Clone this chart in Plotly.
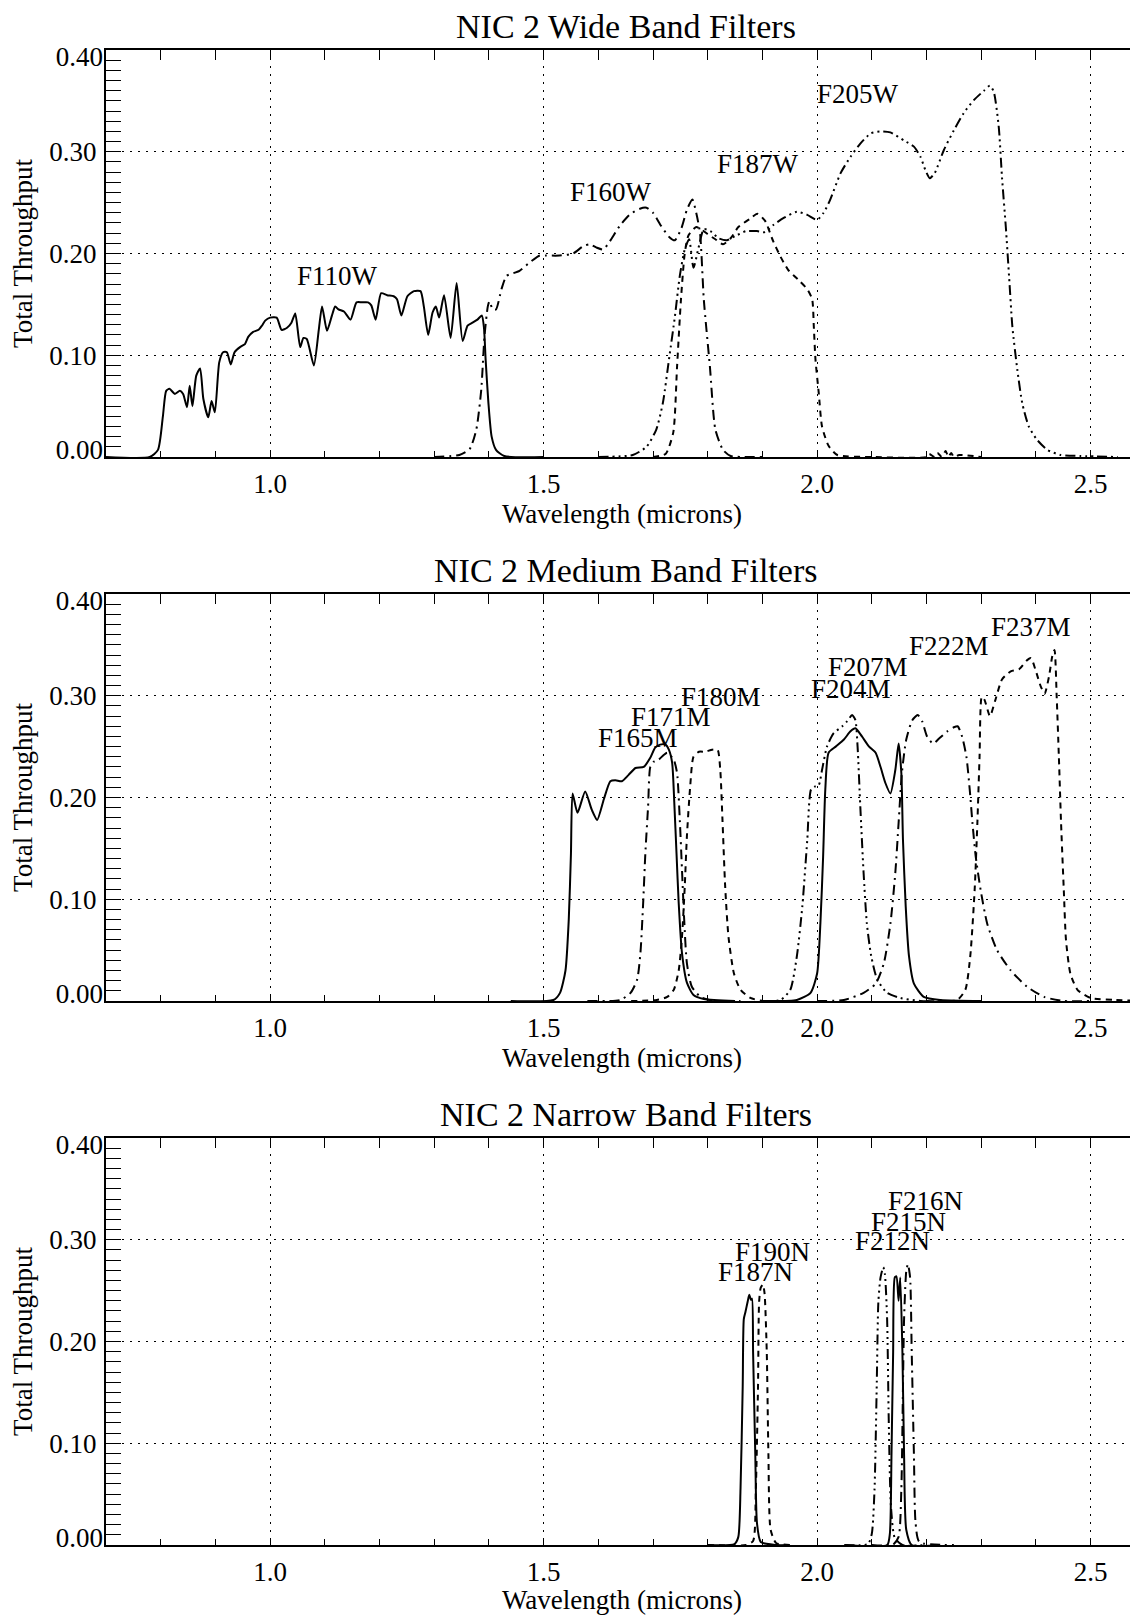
import plotly.graph_objects as go

# ---------------- data ----------------
# Wide band
f110w_wl = [0.70, 0.78, 0.795, 0.804, 0.810, 0.816, 0.826, 0.835, 0.841, 0.848, 0.853, 0.858, 0.865, 0.872, 0.878, 0.887, 0.893, 0.899, 0.907, 0.914, 0.921, 0.928, 0.935, 0.945, 0.954, 0.960, 0.969, 0.979, 0.985, 0.991, 1.000, 1.012, 1.021, 1.031, 1.039, 1.046, 1.055, 1.061, 1.067, 1.080, 1.089, 1.095, 1.104, 1.113, 1.119, 1.125, 1.135, 1.147, 1.158, 1.168, 1.179, 1.185, 1.193, 1.203, 1.214, 1.226, 1.232, 1.240, 1.251, 1.263, 1.275, 1.281, 1.289, 1.297, 1.303, 1.309, 1.318, 1.330, 1.341, 1.352, 1.361, 1.370, 1.379, 1.387, 1.391, 1.394, 1.399, 1.405, 1.413, 1.428, 1.50]
f110w_tp = [0.0, 0.0, 0.007, 0.040, 0.065, 0.067, 0.062, 0.065, 0.062, 0.049, 0.070, 0.050, 0.080, 0.087, 0.057, 0.039, 0.055, 0.044, 0.093, 0.103, 0.103, 0.091, 0.103, 0.108, 0.111, 0.118, 0.123, 0.125, 0.129, 0.134, 0.137, 0.137, 0.125, 0.127, 0.132, 0.141, 0.108, 0.117, 0.116, 0.090, 0.125, 0.148, 0.124, 0.139, 0.148, 0.145, 0.143, 0.135, 0.152, 0.152, 0.152, 0.149, 0.135, 0.161, 0.159, 0.158, 0.155, 0.139, 0.158, 0.163, 0.163, 0.148, 0.120, 0.142, 0.148, 0.137, 0.159, 0.117, 0.171, 0.114, 0.129, 0.132, 0.135, 0.139, 0.127, 0.096, 0.054, 0.020, 0.007, 0.001, 0.0]

f160w_wl = [1.30, 1.346, 1.365, 1.377, 1.386, 1.392, 1.398, 1.401, 1.407, 1.413, 1.423, 1.432, 1.441, 1.456, 1.474, 1.493, 1.505, 1.529, 1.554, 1.572, 1.584, 1.596, 1.609, 1.621, 1.639, 1.657, 1.676, 1.688, 1.700, 1.715, 1.730, 1.740, 1.752, 1.762, 1.772, 1.779, 1.786, 1.793, 1.804, 1.814, 1.828, 1.842, 1.90]
f160w_tp = [0.0, 0.002, 0.008, 0.027, 0.066, 0.119, 0.148, 0.153, 0.145, 0.145, 0.165, 0.178, 0.180, 0.183, 0.191, 0.198, 0.198, 0.198, 0.200, 0.207, 0.209, 0.206, 0.204, 0.212, 0.227, 0.238, 0.244, 0.245, 0.240, 0.227, 0.216, 0.213, 0.225, 0.243, 0.253, 0.240, 0.220, 0.154, 0.089, 0.027, 0.007, 0.001, 0.0]

f187w_wl = [1.70, 1.723, 1.737, 1.744, 1.751, 1.758, 1.765, 1.779, 1.790, 1.800, 1.814, 1.828, 1.842, 1.856, 1.877, 1.891, 1.905, 1.919, 1.933, 1.947, 1.968, 1.982, 1.991, 1.994, 1.997, 2.003, 2.009, 2.021, 2.037, 2.10, 2.20, 2.205, 2.215, 2.22, 2.228, 2.235, 2.24, 2.245, 2.25, 2.26, 2.30]
f187w_tp = [0.0, 0.003, 0.024, 0.089, 0.154, 0.200, 0.218, 0.226, 0.223, 0.219, 0.214, 0.209, 0.215, 0.226, 0.234, 0.239, 0.232, 0.213, 0.197, 0.184, 0.173, 0.165, 0.155, 0.128, 0.096, 0.063, 0.030, 0.011, 0.002, 0.0, 0.0, 0.003, 0.0, 0.004, 0.0, 0.006, 0.0, 0.004, 0.0, 0.002, 0.0]

f205w_wl = [1.60, 1.663, 1.688, 1.706, 1.718, 1.730, 1.740, 1.749, 1.758, 1.766, 1.774, 1.783, 1.793, 1.805, 1.820, 1.835, 1.850, 1.870, 1.890, 1.905, 1.920, 1.939, 1.963, 1.982, 2.000, 2.012, 2.024, 2.043, 2.061, 2.079, 2.098, 2.116, 2.134, 2.159, 2.177, 2.189, 2.198, 2.206, 2.215, 2.232, 2.250, 2.268, 2.287, 2.305, 2.316, 2.323, 2.332, 2.338, 2.345, 2.351, 2.357, 2.366, 2.375, 2.387, 2.402, 2.421, 2.445, 2.482, 2.55]
f205w_tp = [0.0, 0.002, 0.010, 0.027, 0.053, 0.099, 0.138, 0.178, 0.204, 0.214, 0.186, 0.205, 0.224, 0.222, 0.215, 0.213, 0.217, 0.222, 0.222, 0.221, 0.228, 0.235, 0.241, 0.238, 0.233, 0.240, 0.253, 0.279, 0.295, 0.308, 0.318, 0.320, 0.319, 0.311, 0.305, 0.295, 0.282, 0.274, 0.279, 0.302, 0.321, 0.338, 0.351, 0.360, 0.365, 0.359, 0.325, 0.275, 0.226, 0.177, 0.128, 0.086, 0.053, 0.030, 0.017, 0.007, 0.002, 0.001, 0.0]

# Medium band
f165m_wl = [1.44, 1.518, 1.530, 1.540, 1.546, 1.550, 1.553, 1.562, 1.576, 1.588, 1.598, 1.610, 1.622, 1.631, 1.643, 1.655, 1.668, 1.683, 1.695, 1.704, 1.713, 1.723, 1.729, 1.735, 1.739, 1.743, 1.747, 1.753, 1.762, 1.774, 1.793, 1.85]
f165m_tp = [0.0, 0.001, 0.008, 0.030, 0.080, 0.145, 0.204, 0.185, 0.206, 0.188, 0.178, 0.198, 0.216, 0.217, 0.216, 0.222, 0.229, 0.230, 0.239, 0.249, 0.252, 0.252, 0.247, 0.234, 0.194, 0.145, 0.096, 0.047, 0.018, 0.006, 0.002, 0.0]

f171m_wl = [1.58, 1.640, 1.659, 1.671, 1.677, 1.682, 1.686, 1.691, 1.695, 1.701, 1.710, 1.720, 1.726, 1.738, 1.744, 1.749, 1.753, 1.757, 1.762, 1.771, 1.787, 1.811, 1.86]
f171m_tp = [0.0, 0.001, 0.008, 0.021, 0.047, 0.096, 0.145, 0.191, 0.230, 0.235, 0.237, 0.242, 0.244, 0.237, 0.224, 0.178, 0.129, 0.080, 0.037, 0.014, 0.004, 0.0, 0.0]

f180m_wl = [1.66, 1.707, 1.726, 1.738, 1.747, 1.753, 1.758, 1.762, 1.768, 1.774, 1.784, 1.796, 1.808, 1.818, 1.823, 1.827, 1.832, 1.838, 1.848, 1.860, 1.878, 1.902, 1.95]
f180m_tp = [0.0, 0.001, 0.004, 0.011, 0.030, 0.063, 0.112, 0.162, 0.211, 0.240, 0.245, 0.245, 0.247, 0.247, 0.227, 0.178, 0.112, 0.063, 0.027, 0.011, 0.003, 0.0, 0.0]

f204m_wl = [1.90, 1.933, 1.951, 1.963, 1.973, 1.982, 1.989, 1.997, 2.003, 2.009, 2.018, 2.030, 2.046, 2.055, 2.064, 2.070, 2.074, 2.079, 2.085, 2.091, 2.099, 2.110, 2.128, 2.152, 2.189, 2.25]
f204m_tp = [0.0, 0.001, 0.011, 0.044, 0.093, 0.158, 0.208, 0.211, 0.212, 0.227, 0.250, 0.263, 0.270, 0.275, 0.281, 0.276, 0.250, 0.191, 0.126, 0.076, 0.044, 0.021, 0.008, 0.003, 0.0, 0.0]

f207m_wl = [1.90, 1.963, 1.988, 2.000, 2.006, 2.011, 2.015, 2.021, 2.034, 2.049, 2.061, 2.070, 2.082, 2.095, 2.107, 2.116, 2.125, 2.134, 2.143, 2.149, 2.154, 2.157, 2.162, 2.168, 2.177, 2.195, 2.226, 2.30]
f207m_tp = [0.0, 0.001, 0.008, 0.027, 0.076, 0.142, 0.208, 0.244, 0.250, 0.257, 0.265, 0.268, 0.260, 0.250, 0.244, 0.230, 0.214, 0.204, 0.227, 0.253, 0.224, 0.158, 0.093, 0.044, 0.017, 0.004, 0.001, 0.0]

f222m_wl = [2.00, 2.049, 2.085, 2.107, 2.122, 2.134, 2.143, 2.149, 2.155, 2.163, 2.174, 2.184, 2.192, 2.201, 2.212, 2.223, 2.238, 2.250, 2.257, 2.265, 2.273, 2.279, 2.284, 2.290, 2.299, 2.311, 2.329, 2.354, 2.384, 2.415, 2.451, 2.50]
f222m_tp = [0.0, 0.001, 0.008, 0.017, 0.037, 0.076, 0.126, 0.175, 0.224, 0.257, 0.276, 0.281, 0.275, 0.260, 0.253, 0.258, 0.265, 0.269, 0.270, 0.260, 0.240, 0.208, 0.175, 0.142, 0.109, 0.076, 0.050, 0.030, 0.014, 0.004, 0.0, 0.0]

f237m_wl = [2.20, 2.256, 2.271, 2.280, 2.288, 2.293, 2.297, 2.301, 2.306, 2.316, 2.326, 2.338, 2.354, 2.369, 2.384, 2.391, 2.399, 2.409, 2.416, 2.424, 2.430, 2.434, 2.438, 2.442, 2.446, 2.451, 2.455, 2.463, 2.476, 2.500, 2.543, 2.60]
f237m_tp = [0.0, 0.001, 0.011, 0.044, 0.109, 0.175, 0.240, 0.299, 0.296, 0.280, 0.296, 0.316, 0.324, 0.326, 0.335, 0.337, 0.326, 0.309, 0.302, 0.319, 0.339, 0.345, 0.299, 0.240, 0.175, 0.109, 0.060, 0.027, 0.011, 0.003, 0.001, 0.0]

# Narrow band
f187n_wl = [1.80, 1.849, 1.856, 1.860, 1.864, 1.866, 1.869, 1.873, 1.876, 1.879, 1.881, 1.883, 1.887, 1.890, 1.897, 1.925, 1.95]
f187n_tp = [0.0, 0.001, 0.008, 0.055, 0.156, 0.222, 0.229, 0.239, 0.246, 0.241, 0.242, 0.189, 0.089, 0.022, 0.003, 0.0, 0.0]

f190n_wl = [1.80, 1.870, 1.883, 1.888, 1.892, 1.894, 1.897, 1.901, 1.904, 1.908, 1.911, 1.915, 1.925, 1.953]
f190n_tp = [0.0, 0.0, 0.004, 0.055, 0.156, 0.239, 0.253, 0.256, 0.247, 0.189, 0.089, 0.015, 0.002, 0.0]

f212n_wl = [2.05, 2.093, 2.100, 2.105, 2.109, 2.112, 2.116, 2.121, 2.124, 2.128, 2.131, 2.135, 2.142, 2.156, 2.20]
f212n_tp = [0.0, 0.001, 0.011, 0.055, 0.156, 0.239, 0.263, 0.273, 0.266, 0.222, 0.122, 0.038, 0.007, 0.0, 0.0]

f215n_wl = [2.05, 2.128, 2.133, 2.136, 2.139, 2.142, 2.145, 2.149, 2.152, 2.156, 2.159, 2.163, 2.173, 2.22]
f215n_tp = [0.0, 0.0, 0.011, 0.089, 0.189, 0.263, 0.264, 0.240, 0.263, 0.189, 0.089, 0.015, 0.0, 0.0]

f216n_wl = [2.10, 2.138, 2.149, 2.154, 2.157, 2.159, 2.163, 2.166, 2.170, 2.173, 2.177, 2.180, 2.187, 2.25]
f216n_tp = [0.0, 0.0, 0.008, 0.055, 0.156, 0.222, 0.269, 0.276, 0.263, 0.189, 0.089, 0.022, 0.003, 0.0]

# label placements (text, wavelength, throughput)
wide_labels = [("F110W", 1.123, 0.178), ("F160W", 1.624, 0.260), ("F187W", 1.892, 0.288), ("F205W", 2.074, 0.357)]
medium_labels = [("F165M", 1.672, 0.258), ("F171M", 1.733, 0.279), ("F180M", 1.824, 0.299),
                 ("F204M", 2.062, 0.307), ("F207M", 2.093, 0.328), ("F222M", 2.242, 0.349), ("F237M", 2.391, 0.368)]
narrow_labels = [("F187N", 1.887, 0.268), ("F190N", 1.918, 0.288), ("F212N", 2.137, 0.299),
                 ("F215N", 2.167, 0.317), ("F216N", 2.198, 0.338)]

titles = ["NIC 2 Wide Band Filters", "NIC 2 Medium Band Filters", "NIC 2 Narrow Band Filters"]
x_full = [0.7, 2.6]          # full wavelength span of each panel (right end falls just off the picture)
y_ticks = [0.0, 0.1, 0.2, 0.3, 0.4]
y_ticktext = ["", "0.10", "0.20", "0.30", ""]

# ---------------- styling ----------------
SOLID = "solid"
DASH = "6px,5px"
DASHDOT = "10px,5px,2px,5px"
DASH3DOT = "10px,4px,2px,4px,2px,4px,2px,4px"
FONT = "Liberation Serif"
TICKFONT = dict(family=FONT, size=27, color="black")

panels = [
    [(f110w_wl, f110w_tp, SOLID), (f160w_wl, f160w_tp, DASHDOT), (f187w_wl, f187w_tp, DASH), (f205w_wl, f205w_tp, DASH3DOT)],
    [(f165m_wl, f165m_tp, SOLID), (f171m_wl, f171m_tp, DASHDOT), (f180m_wl, f180m_tp, DASH), (f204m_wl, f204m_tp, DASH3DOT),
     (f207m_wl, f207m_tp, SOLID), (f222m_wl, f222m_tp, DASHDOT), (f237m_wl, f237m_tp, DASH)],
    [(f187n_wl, f187n_tp, SOLID), (f190n_wl, f190n_tp, DASH), (f212n_wl, f212n_tp, DASH3DOT),
     (f215n_wl, f215n_tp, SOLID), (f216n_wl, f216n_tp, DASHDOT)],
]
labels = [wide_labels, medium_labels, narrow_labels]

# the page body adds an 8px margin, so the figure is 8px smaller than the window
OFF = 8
W, H = 1138 - OFF, 1615 - OFF
LEFT = 106 - OFF
PXU = 547.0  # pixels per micron
XR = [x_full[0], x_full[0] + (W - LEFT) / PXU]
YR = [0, 0.40]
tops = [50 - OFF, 594 - OFF, 1138 - OFF]
PH = 407
domains = [[(H - t - PH) / H, (H - t) / H] for t in tops]


def aid(kind, n):
    return kind if n == 1 else f"{kind}{n}"


def lname(kind, n):
    return f"{kind}axis" if n == 1 else f"{kind}axis{n}"


def anchor_subplot(xa, ya):
    # an empty trace so that the decorative overlay axis is drawn
    fig.add_trace(go.Scatter(x=[], y=[], mode="lines", xaxis=xa, yaxis=ya,
                             showlegend=False, hoverinfo="skip"))


fig = go.Figure()
for i, panel in enumerate(panels):
    k = i + 1
    xa, ya = aid("x", k), aid("y", k)
    for wl, tp, dash in panel:
        fig.add_trace(go.Scatter(x=wl, y=tp, mode="lines", xaxis=xa, yaxis=ya,
                                 line=dict(color="black", width=2, dash=dash, shape="spline", smoothing=0.6),
                                 showlegend=False, hoverinfo="skip"))
    anchor_subplot(aid("x", k + 3), ya)
    anchor_subplot(xa, aid("y", k + 3))
    anchor_subplot(xa, aid("y", k + 6))
    anchor_subplot(xa, aid("y", k + 9))

    for txt, lx, ly in labels[i]:
        fig.add_annotation(x=lx, y=ly, xref=xa, yref=ya, text=txt, showarrow=False,
                           xanchor="center", yanchor="middle",
                           font=dict(family=FONT, size=27, color="black"))
    # panel title, centred over the full wavelength span
    fig.add_annotation(x=sum(x_full) / 2, y=domains[i][1], xref=xa, yref="paper",
                       text=titles[i], showarrow=False, xanchor="center", yanchor="middle", yshift=24,
                       font=dict(family=FONT, size=34, color="black"))

    # main bottom x axis
    fig.layout[lname("x", k)] = dict(
        range=XR, domain=[0, 1], anchor=ya, side="bottom",
        tick0=0, dtick=0.5, tickformat=".1f",
        ticks="inside", ticklen=6, tickwidth=1, tickcolor="black",
        showline=True, linecolor="black", linewidth=2, mirror=False,
        showgrid=True, gridcolor="black", gridwidth=1, griddash="2px,6px",
        zeroline=False, automargin=False, ticklabelstandoff=2,
        minor=dict(tick0=0, dtick=0.1, ticks="inside", ticklen=6, tickwidth=1,
                   tickcolor="black", showgrid=False),
        tickfont=TICKFONT,
        title=dict(text="Wavelength (microns)", standoff=0, font=TICKFONT))
    # top x axis (ticks only)
    fig.layout[lname("x", k + 3)] = dict(
        range=XR, overlaying=xa, anchor=ya, side="top",
        tickmode="linear", tick0=0, dtick=0.1, ticks="inside", ticklen=10, tickwidth=1, tickcolor="black",
        showline=True, linecolor="black", linewidth=2, showticklabels=False,
        showgrid=False, zeroline=False, automargin=False)
    # main left y axis
    fig.layout[lname("y", k)] = dict(
        range=YR, domain=domains[i], anchor=xa, side="left",
        tickmode="array", tickvals=y_ticks, ticktext=y_ticktext,
        ticks="inside", ticklen=15, tickwidth=1, tickcolor="black",
        showline=True, linecolor="black", linewidth=2, mirror=False,
        showgrid=True, gridcolor="black", gridwidth=1, griddash="2px,6px",
        zeroline=False, automargin=False, ticklabelstandoff=2,
        minor=dict(tickmode="linear", tick0=0, dtick=0.01, ticks="inside", ticklen=15, tickwidth=1,
                   tickcolor="black", showgrid=False),
        tickfont=TICKFONT,
        title=dict(text="Total Throughput", standoff=15, font=TICKFONT))
    # right y axis (ticks only; the axis line itself falls just outside the picture)
    fig.layout[lname("y", k + 3)] = dict(
        range=YR, overlaying=ya, anchor=xa, side="right",
        tickmode="linear", tick0=0, dtick=0.01, ticks="inside", ticklen=8, tickwidth=1, tickcolor="black",
        showline=False, showticklabels=False, showgrid=False, zeroline=False, automargin=False)
    # end labels, kept inside the axis span as in the reference
    fig.layout[lname("y", k + 6)] = dict(
        range=YR, overlaying=ya, anchor=xa, side="left",
        tickmode="array", tickvals=[y_ticks[0]], ticktext=["0.00"], ticks="",
        ticklabelshift=-7, ticklabelstandoff=2, tickfont=TICKFONT,
        showline=False, showgrid=False, zeroline=False, automargin=False)
    fig.layout[lname("y", k + 9)] = dict(
        range=YR, overlaying=ya, anchor=xa, side="left",
        tickmode="array", tickvals=[y_ticks[-1]], ticktext=["0.40"], ticks="",
        ticklabelshift=7, ticklabelstandoff=2, tickfont=TICKFONT,
        showline=False, showgrid=False, zeroline=False, automargin=False)

fig.update_layout(width=W, height=H, margin=dict(l=LEFT, r=0, t=0, b=0),
                  paper_bgcolor="white", plot_bgcolor="white",
                  font=dict(family=FONT, color="black"), showlegend=False)

fig.write_html("out.html")
